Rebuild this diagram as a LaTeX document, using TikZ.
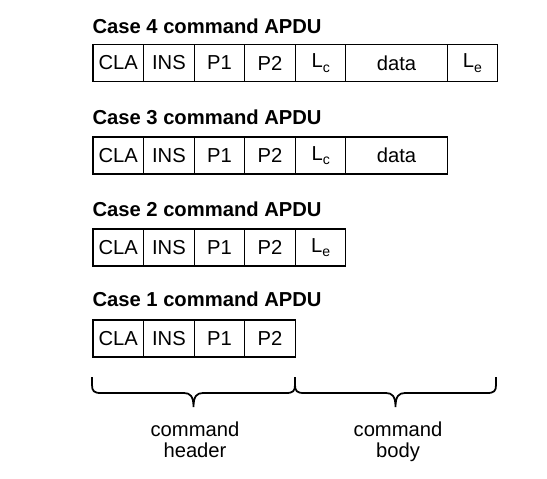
\documentclass[tikz,border=0pt]{standalone}
\usepackage{fontspec}
\setmainfont{Liberation Sans}
\usetikzlibrary{positioning}
\newcommand\lsub[1]{L\raisebox{-2.7pt}{\fontsize{8}{8}\selectfont #1}}
\begin{document}
\begin{tikzpicture}[x=0.02cm, y=-0.02cm, line width=0.6pt,
    every node/.style={font=\fontsize{11.5}{12}\selectfont},
    cell/.style={draw, outer sep=0pt, inner sep=0pt, minimum width=1.012cm, minimum height=0.74cm},
    wide/.style={cell, minimum width=2.024cm},
    title/.style={anchor=base west, inner sep=0pt, font=\fontsize{11.5}{12}\selectfont\bfseries},
    label/.style={align=center, anchor=north, inner sep=0pt},
    curly/.style={line width=1pt}]
  \useasboundingbox (0,0) rectangle (547,478);

  \node[title] (t4) at (92,33) {Case 4 command APDU};
  \node[cell] (c4cla) at (118.3,63) {CLA};
  \node[cell, right=0pt of c4cla] (c4ins) {INS};
  \node[cell, right=0pt of c4ins] (c4p1) {P1};
  \node[cell, right=0pt of c4p1] (c4p2) {P2};
  \node[cell, right=0pt of c4p2] (c4lc) {\lsub{c}};
  \node[wide, right=0pt of c4lc] (c4data) {data};
  \node[cell, right=0pt of c4data] (c4le) {\lsub{e}};

  \node[title] (t3) at (92,124.5) {Case 3 command APDU};
  \node[cell] (c3cla) at (118.3,155.5) {CLA};
  \node[cell, right=0pt of c3cla] (c3ins) {INS};
  \node[cell, right=0pt of c3ins] (c3p1) {P1};
  \node[cell, right=0pt of c3p1] (c3p2) {P2};
  \node[cell, right=0pt of c3p2] (c3lc) {\lsub{c}};
  \node[wide, right=0pt of c3lc] (c3data) {data};

  \node[title] (t2) at (92,216) {Case 2 command APDU};
  \node[cell] (c2cla) at (118.3,247.5) {CLA};
  \node[cell, right=0pt of c2cla] (c2ins) {INS};
  \node[cell, right=0pt of c2ins] (c2p1) {P1};
  \node[cell, right=0pt of c2p1] (c2p2) {P2};
  \node[cell, right=0pt of c2p2] (c2le) {\lsub{e}};

  \node[title] (t1) at (92,306) {Case 1 command APDU};
  \node[cell] (c1cla) at (118.3,338.5) {CLA};
  \node[cell, right=0pt of c1cla] (c1ins) {INS};
  \node[cell, right=0pt of c1ins] (c1p1) {P1};
  \node[cell, right=0pt of c1p1] (c1p2) {P2};

  \draw[curly] (92,377) -- (92,385) .. controls (92,391) and (94,393) .. (101,393) -- (184,393)
    .. controls (190,393) and (193.5,396) .. (193.5,407) .. controls (193.5,396) and (197,393) .. (203,393)
    -- (286,393) .. controls (293,393) and (295,391) .. (295,385) -- (295,377);
  \draw[curly] (295,377) -- (295,385) .. controls (295,391) and (297,393) .. (304,393) -- (386,393)
    .. controls (392,393) and (395.5,396) .. (395.5,407) .. controls (395.5,396) and (399,393) .. (405,393)
    -- (487,393) .. controls (494,393) and (496,391) .. (496,385) -- (496,377);

  \node[label] (hdr) at (195,421.5) {command\\header};
  \node[label] (bdy) at (398,421.5) {command\\body};
\end{tikzpicture}
\end{document}
